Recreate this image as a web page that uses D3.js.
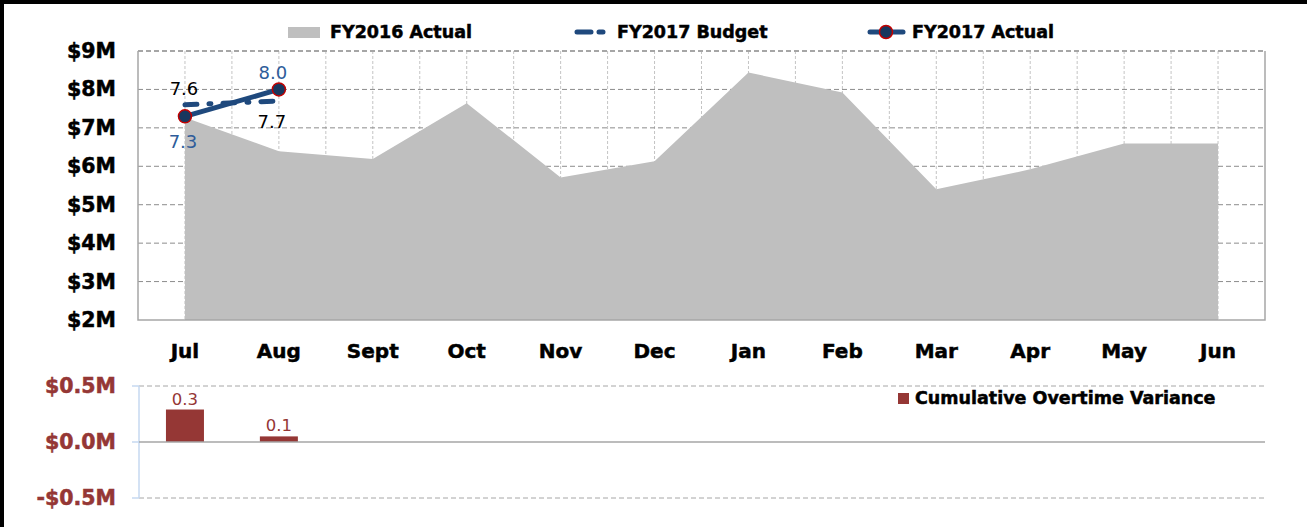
<!DOCTYPE html>
<html>
<head>
<meta charset="utf-8">
<script src="https://cdn.jsdelivr.net/npm/d3@7"></script>
<style>
  body { margin: 0; background: #fff; }
  svg { display: block; font-family: "DejaVu Sans", Verdana, sans-serif; }
  .heavy { stroke-width: 0.5px; paint-order: stroke; }
</style>
</head>
<body>
<div id="chart"></div>
<script>
const months = ["Jul", "Aug", "Sept", "Oct", "Nov", "Dec", "Jan", "Feb", "Mar", "Apr", "May", "Jun"];
const fy2016Actual = [7.27, 6.39, 6.19, 7.64, 5.71, 6.13, 8.44, 7.92, 5.4, 5.92, 6.59, 6.59];
const fy2017Budget = [7.6, 7.7];
const fy2017Actual = [7.3, 8.0];
const overtimeVariance = [0.29, 0.05];
const topTicks = [2, 3, 4, 5, 6, 7, 8, 9];
const bottomTicks = [-0.5, 0, 0.5];

const width = 1307, height = 527;
const navy = "#1F497D", varRed = "#953735";

const svg = d3.select("#chart").append("svg")
    .attr("width", width)
    .attr("height", height);

// frame bits at top and left
svg.append("rect").attr("x", 0).attr("y", 0).attr("width", width).attr("height", 4).attr("fill", "#000");
svg.append("rect").attr("x", 0).attr("y", 0).attr("width", 4).attr("height", height).attr("fill", "#000");

const x = d3.scaleBand().domain(months).range([138, 1265]);
const cx = m => x(m) + x.bandwidth() / 2;
const y = d3.scaleLinear().domain([2, 9]).range([320, 51]);
const y2 = d3.scaleLinear().domain([-0.5, 0.5]).range([498, 386]);

// ---- top chart grid
const grid = svg.append("g");
const vx = months.flatMap(m => [x(m), cx(m)]).filter(v => v > 139);
grid.selectAll(".vg").data(vx).join("line")
    .attr("x1", d => d).attr("x2", d => d)
    .attr("y1", y(9)).attr("y2", y(2))
    .attr("stroke", "#c4c4c4").attr("stroke-dasharray", "3,2");
grid.selectAll(".hg").data(topTicks.filter(t => t > 2)).join("line")
    .attr("x1", 138).attr("x2", 1265)
    .attr("y1", d => y(d)).attr("y2", d => y(d))
    .attr("stroke", d => d === 9 ? "#a6a6a6" : "#8c8c8c")
    .attr("stroke-width", d => d === 9 ? 2 : 1)
    .attr("stroke-dasharray", "5,3");

// FY2016 area
const data16 = months.map((m, i) => ({ m, v: fy2016Actual[i] }));
svg.append("path")
    .datum(data16)
    .attr("fill", "#bfbfbf")
    .attr("d", d3.area().x(d => cx(d.m)).y0(y(2)).y1(d => y(d.v)));

// axis lines: left, bottom, right solid
svg.append("path")
    .attr("d", `M${138},${y(9)}V${y(2)}H${1265}V${y(9)}`)
    .attr("fill", "none").attr("stroke", "#a6a6a6").attr("stroke-width", 1.5);

// y tick labels
svg.append("g").selectAll("text").data(topTicks).join("text")
    .attr("class", "heavy").attr("stroke", "#000")
    .attr("x", 116).attr("y", d => y(d) + 7)
    .attr("text-anchor", "end")
    .attr("font-size", 20.5).attr("font-weight", "bold")
    .text(d => `$${d}M`);

// month labels
svg.append("g").selectAll("text").data(months).join("text")
    .attr("class", "heavy").attr("stroke", "#000")
    .attr("x", d => cx(d)).attr("y", 358)
    .attr("text-anchor", "middle")
    .attr("font-size", 20).attr("font-weight", "bold")
    .text(d => d);

// FY2017 budget (dashed)
const budget = fy2017Budget.map((v, i) => ({ m: months[i], v }));
svg.append("path")
    .datum(budget)
    .attr("fill", "none").attr("stroke", navy).attr("stroke-width", 5)
    .attr("stroke-linecap", "round")
    .attr("stroke-dasharray", "12,12,2,12")
    .attr("d", d3.line().x(d => cx(d.m)).y(d => y(d.v)));

// FY2017 actual
const actual = fy2017Actual.map((v, i) => ({ m: months[i], v }));
svg.append("path")
    .datum(actual)
    .attr("fill", "none").attr("stroke", navy).attr("stroke-width", 5)
    .attr("d", d3.line().x(d => cx(d.m)).y(d => y(d.v)));
svg.append("g").selectAll("circle").data(actual).join("circle")
    .attr("cx", d => cx(d.m)).attr("cy", d => y(d.v)).attr("r", 6.5)
    .attr("fill", "#17375E").attr("stroke", "#C00000").attr("stroke-width", 1.5);

// data labels
const budgetOffset = [-10, 27];
const actualOffset = [32, -10];
svg.append("g").selectAll("text").data(budget).join("text")
    .attr("x", (d, i) => cx(d.m) - (i ? 7 : 1)).attr("y", (d, i) => y(d.v) + budgetOffset[i])
    .attr("text-anchor", "middle").attr("font-size", 18).attr("fill", "#000")
    .text(d => d.v.toFixed(1));
svg.append("g").selectAll("text").data(actual).join("text")
    .attr("x", (d, i) => cx(d.m) - (i ? 6 : 2)).attr("y", (d, i) => y(d.v) + actualOffset[i])
    .attr("text-anchor", "middle").attr("font-size", 18).attr("fill", "#2E5C9A")
    .text(d => d.v.toFixed(1));

// ---- top legend
const lg = svg.append("g").attr("font-size", 17.5).attr("font-weight", "bold");
lg.append("rect").attr("x", 288).attr("y", 27).attr("width", 32).attr("height", 11).attr("fill", "#bfbfbf");
lg.append("text").attr("class", "heavy").attr("stroke", "#000").attr("x", 330).attr("y", 38).text("FY2016 Actual");
lg.append("line").attr("x1", 577).attr("x2", 607).attr("y1", 32).attr("y2", 32)
    .attr("stroke", navy).attr("stroke-width", 5).attr("stroke-linecap", "round")
    .attr("stroke-dasharray", "14,8,4,20");
lg.append("text").attr("class", "heavy").attr("stroke", "#000").attr("x", 617).attr("y", 38).text("FY2017 Budget");
lg.append("line").attr("x1", 870).attr("x2", 903).attr("y1", 32).attr("y2", 32)
    .attr("stroke", navy).attr("stroke-width", 5).attr("stroke-linecap", "round");
lg.append("circle").attr("cx", 886).attr("cy", 32).attr("r", 6.5)
    .attr("fill", "#17375E").attr("stroke", "#C00000").attr("stroke-width", 1.5);
lg.append("text").attr("class", "heavy").attr("stroke", "#000").attr("x", 912).attr("y", 38).text("FY2017 Actual");

// ---- bottom chart
svg.append("g").selectAll("line").data([0.5, -0.5]).join("line")
    .attr("x1", 139).attr("x2", 1265)
    .attr("y1", d => y2(d)).attr("y2", d => y2(d))
    .attr("stroke", "#a6a6a6").attr("stroke-dasharray", "5,3");
svg.append("line").attr("x1", 139).attr("x2", 139).attr("y1", y2(0.5)).attr("y2", y2(-0.5))
    .attr("stroke", "#c6d9f1").attr("stroke-width", 1.5);
svg.append("g").selectAll("line").data(bottomTicks).join("line")
    .attr("x1", 132).attr("x2", 139)
    .attr("y1", d => y2(d)).attr("y2", d => y2(d))
    .attr("stroke", "#c6d9f1").attr("stroke-width", 1.5);

const varData = overtimeVariance.map((v, i) => ({ m: months[i], v }));
const barW = 38;
svg.append("g").selectAll("rect").data(varData).join("rect")
    .attr("x", d => cx(d.m) - barW / 2)
    .attr("y", d => y2(Math.max(0, d.v)))
    .attr("width", barW)
    .attr("height", d => Math.abs(y2(d.v) - y2(0)))
    .attr("fill", varRed);
svg.append("g").selectAll("text").data(varData).join("text")
    .attr("x", d => cx(d.m)).attr("y", d => y2(d.v) - 5)
    .attr("text-anchor", "middle").attr("font-size", 16.5).attr("fill", varRed)
    .text(d => d.v.toFixed(1));

svg.append("line").attr("x1", 139).attr("x2", 1265).attr("y1", y2(0)).attr("y2", y2(0))
    .attr("stroke", "#a6a6a6").attr("stroke-width", 1.5);

svg.append("g").selectAll("text").data(bottomTicks).join("text")
    .attr("class", "heavy").attr("stroke", varRed)
    .attr("x", 116).attr("y", d => y2(d) + 7)
    .attr("text-anchor", "end")
    .attr("font-size", 20.5).attr("font-weight", "bold").attr("fill", varRed)
    .text(d => (d < 0 ? "-" : "") + "$" + Math.abs(d).toFixed(1) + "M");

// bottom legend
svg.append("rect").attr("x", 898).attr("y", 393).attr("width", 11).attr("height", 11).attr("fill", varRed);
svg.append("text").attr("class", "heavy").attr("stroke", "#000").attr("x", 915).attr("y", 404)
    .attr("font-size", 17.5).attr("font-weight", "bold")
    .text("Cumulative Overtime Variance");
</script>
</body>
</html>
